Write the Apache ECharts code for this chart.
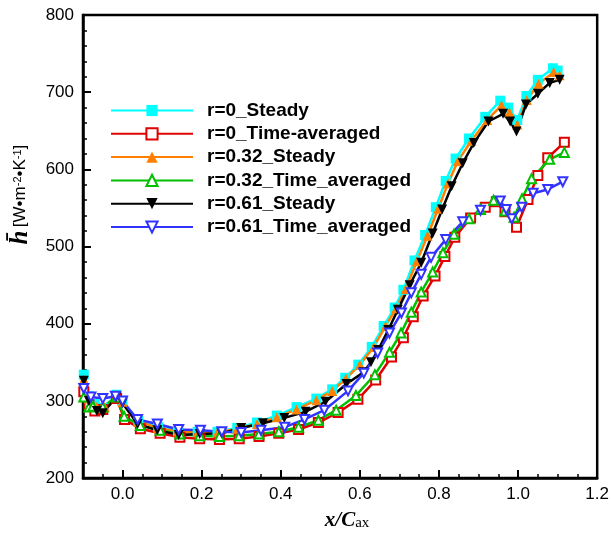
<!DOCTYPE html>
<html><head><meta charset="utf-8">
<script src="https://cdn.jsdelivr.net/npm/echarts@6/dist/echarts.min.js"></script>
<style>html,body{margin:0;padding:0;background:#fff}#c{width:612px;height:536px}</style>
</head><body><div id="c"></div>
<script>
const seriesNames = ['r=0_Steady','r=0_Time-averaged','r=0.32_Steady','r=0.32_Time_averaged','r=0.61_Steady','r=0.61_Time_averaged'];
const xMajorTicks = [0,0.2,0.4,0.6,0.8,1.0,1.2];
const yMajorTicks = [200,300,400,500,600,700,800];

const r0Steady = [[-0.098,334],[-0.085,306],[-0.07,296],[-0.05,291],[-0.015,308],[0.0,300],[0.04,274],[0.09,266],[0.14,261],[0.19,260],[0.24,260],[0.29,265],[0.34,272],[0.39,281],[0.44,292],[0.49,303],[0.53,315],[0.563,330],[0.596,347],[0.63,370],[0.66,397],[0.688,421],[0.71,444],[0.738,482],[0.765,515],[0.792,551],[0.817,585],[0.842,614],[0.876,640],[0.917,668],[0.955,689],[0.975,680],[0.998,664],[1.021,695],[1.05,716],[1.088,731],[1.1,728]];
const r0TimeAvg = [[-0.098,312],[-0.085,295],[-0.07,287],[-0.05,289],[-0.015,303],[0.005,276],[0.045,264],[0.095,258],[0.145,253],[0.195,251],[0.245,250],[0.295,251],[0.345,254],[0.395,258],[0.445,263],[0.495,272],[0.545,285],[0.595,302],[0.64,327],[0.68,357],[0.71,382],[0.735,409],[0.76,436],[0.79,462],[0.815,487],[0.84,512],[0.88,537],[0.917,551],[0.945,558],[0.967,545],[0.996,525],[1.025,561],[1.05,592],[1.075,615],[1.117,635]];
const r32Steady = [[-0.098,328],[-0.085,303],[-0.065,292],[-0.045,292],[-0.015,307],[0.0,299],[0.04,273],[0.09,265],[0.14,260],[0.19,259],[0.24,259],[0.29,264],[0.34,270],[0.39,279],[0.44,289],[0.49,301],[0.53,313],[0.565,329],[0.60,347],[0.635,370],[0.665,397],[0.692,420],[0.716,445],[0.744,481],[0.771,514],[0.798,549],[0.823,582],[0.848,611],[0.882,637],[0.922,664],[0.958,683],[0.978,674],[0.998,658],[1.022,690],[1.052,711],[1.09,726],[1.105,722]];
const r32TimeAvg = [[-0.098,305],[-0.085,292],[-0.075,293],[-0.05,292],[-0.015,305],[0.004,280],[0.045,268],[0.095,262],[0.145,257],[0.195,255],[0.245,254],[0.295,255],[0.345,257],[0.395,260],[0.445,266],[0.495,275],[0.54,288],[0.59,307],[0.638,334],[0.675,363],[0.704,388],[0.73,415],[0.755,441],[0.784,467],[0.81,492],[0.838,516],[0.876,536],[0.905,548],[0.938,560],[0.967,546],[0.99,538],[1.01,562],[1.034,588],[1.08,613],[1.117,622]];
const r61Steady = [[-0.098,326],[-0.085,300],[-0.065,287],[-0.05,284],[-0.016,305],[0.0,297],[0.038,270],[0.088,262],[0.142,256],[0.195,257],[0.25,258],[0.30,265],[0.355,271],[0.409,278],[0.463,286],[0.513,299],[0.566,322],[0.609,337],[0.628,350],[0.646,366],[0.672,392],[0.696,418],[0.726,450],[0.755,479],[0.784,517],[0.808,548],[0.832,578],[0.86,608],[0.888,634],[0.925,662],[0.962,672],[0.98,662],[0.996,649],[1.02,684],[1.05,698],[1.08,712],[1.105,716]];
const r61TimeAvg = [[-0.098,316],[-0.08,305],[-0.05,303],[-0.018,306],[0.0,300],[0.038,276],[0.088,270],[0.142,263],[0.197,262],[0.251,260],[0.30,259],[0.35,262],[0.41,266],[0.46,276],[0.51,288],[0.57,313],[0.61,336],[0.645,362],[0.675,388],[0.705,414],[0.73,440],[0.755,464],[0.78,486],[0.817,509],[0.86,532],[0.905,547],[0.955,559],[0.97,548],[0.984,536],[1.009,551],[1.038,569],[1.075,574],[1.113,584]];

const seriesData = [r0Steady, r0TimeAvg, r32Steady, r32TimeAvg, r61Steady, r61TimeAvg];
const colors = ['#00FFFF','#E00000','#FF8000','#00C000','#000000','#3333FF'];
const symbols = ['rect','emptyRect','triangle','emptyTriangle','triangle','emptyTriangle'];
const rotates = [0,0,0,0,180,180];

const chart = echarts.init(document.getElementById('c'), null, {renderer:'canvas'});
const series = seriesNames.map((n,i)=>({
  name:n, type:'line', data:seriesData[i], xAxisIndex:0,
  symbol:symbols[i], symbolRotate:rotates[i], symbolSize: i%2===0 ? 10 : 9,
  showAllSymbol:true, animation:false,
  lineStyle:{color:colors[i], width:2.5},
  itemStyle:{color:colors[i], borderColor:colors[i], borderWidth: i%2===0 ? 0 : 2}
}));

chart.setOption({
  backgroundColor:'#fff',
  animation:false,
  grid:{left:81, right:10, top:15, bottom:44, show:true, borderColor:'#000', borderWidth:2.5},
  legend:{
    orient:'vertical', left:110, top:101, padding:0, itemWidth:82, itemHeight:14, itemGap:4.3,
    data:seriesNames,
    textStyle:{fontFamily:'Liberation Sans, Arial, sans-serif', fontWeight:'bold', fontSize:19, color:'#000', lineHeight:18, padding:[0,0,0,9]}
  },
  xAxis:[{
    type:'value', min:-0.1, max:1.2, position:'bottom',
    axisLine:{show:true, onZero:false, lineStyle:{color:'#000', width:2.5}},
    axisTick:{show:true, inside:true, length:8, customValues:xMajorTicks, lineStyle:{color:'#000', width:2}},
    axisLabel:{customValues:xMajorTicks, formatter:v=>v.toFixed(1), fontFamily:'Liberation Sans, Arial, sans-serif', fontSize:17, color:'#000', margin:8},
    splitLine:{show:false},
    name:'{i|x/C}{s|ax}', nameLocation:'middle', nameGap:20,
    nameTextStyle:{padding:[0,0,0,14], rich:{
      i:{fontFamily:'Liberation Serif, Times New Roman, serif', fontStyle:'italic', fontWeight:'bold', fontSize:21, lineHeight:21, verticalAlign:'top', color:'#000'},
      s:{fontFamily:'Liberation Serif, Times New Roman, serif', fontSize:15, lineHeight:15, padding:[8,0,0,0], verticalAlign:'bottom', color:'#000'}
    }}
  },{
    type:'value', min:-0.1, max:1.2, interval:0.05, position:'bottom',
    axisLine:{show:false, onZero:false},
    axisTick:{show:true, inside:true, length:4, lineStyle:{color:'#000', width:1.5}},
    axisLabel:{show:false}, splitLine:{show:false}
  }],
  yAxis:{
    type:'value', min:200, max:800, interval:100,
    axisLine:{show:true, onZero:false, lineStyle:{color:'#000', width:2.5}},
    axisTick:{show:true, inside:true, length:8, lineStyle:{color:'#000', width:2}},
    minorTick:{show:true, splitNumber:5, length:4, lineStyle:{color:'#000', width:1.5}},
    axisLabel:{fontFamily:'Liberation Sans, Arial, sans-serif', fontSize:17, color:'#000', margin:9},
    splitLine:{show:false},
    name:'{h|h\u0304} {u|[W\u2022m}{s|-2}{u|\u2022K}{s|-1}{u|]}', nameLocation:'middle', nameRotate:90, nameGap:50,
    nameTextStyle:{padding:[0,0,0,104], rich:{
      h:{fontFamily:'Liberation Serif, Times New Roman, serif', fontStyle:'italic', fontWeight:'bold', fontSize:25, lineHeight:25, color:'#000'},
      u:{fontFamily:'Liberation Sans, Arial, sans-serif', fontSize:17, lineHeight:25, color:'#000'},
      s:{fontFamily:'Liberation Sans, Arial, sans-serif', fontSize:11, lineHeight:11, verticalAlign:'top', padding:[4,0,0,0], color:'#000'}
    }}
  },
  series:series
});
</script></body></html>
